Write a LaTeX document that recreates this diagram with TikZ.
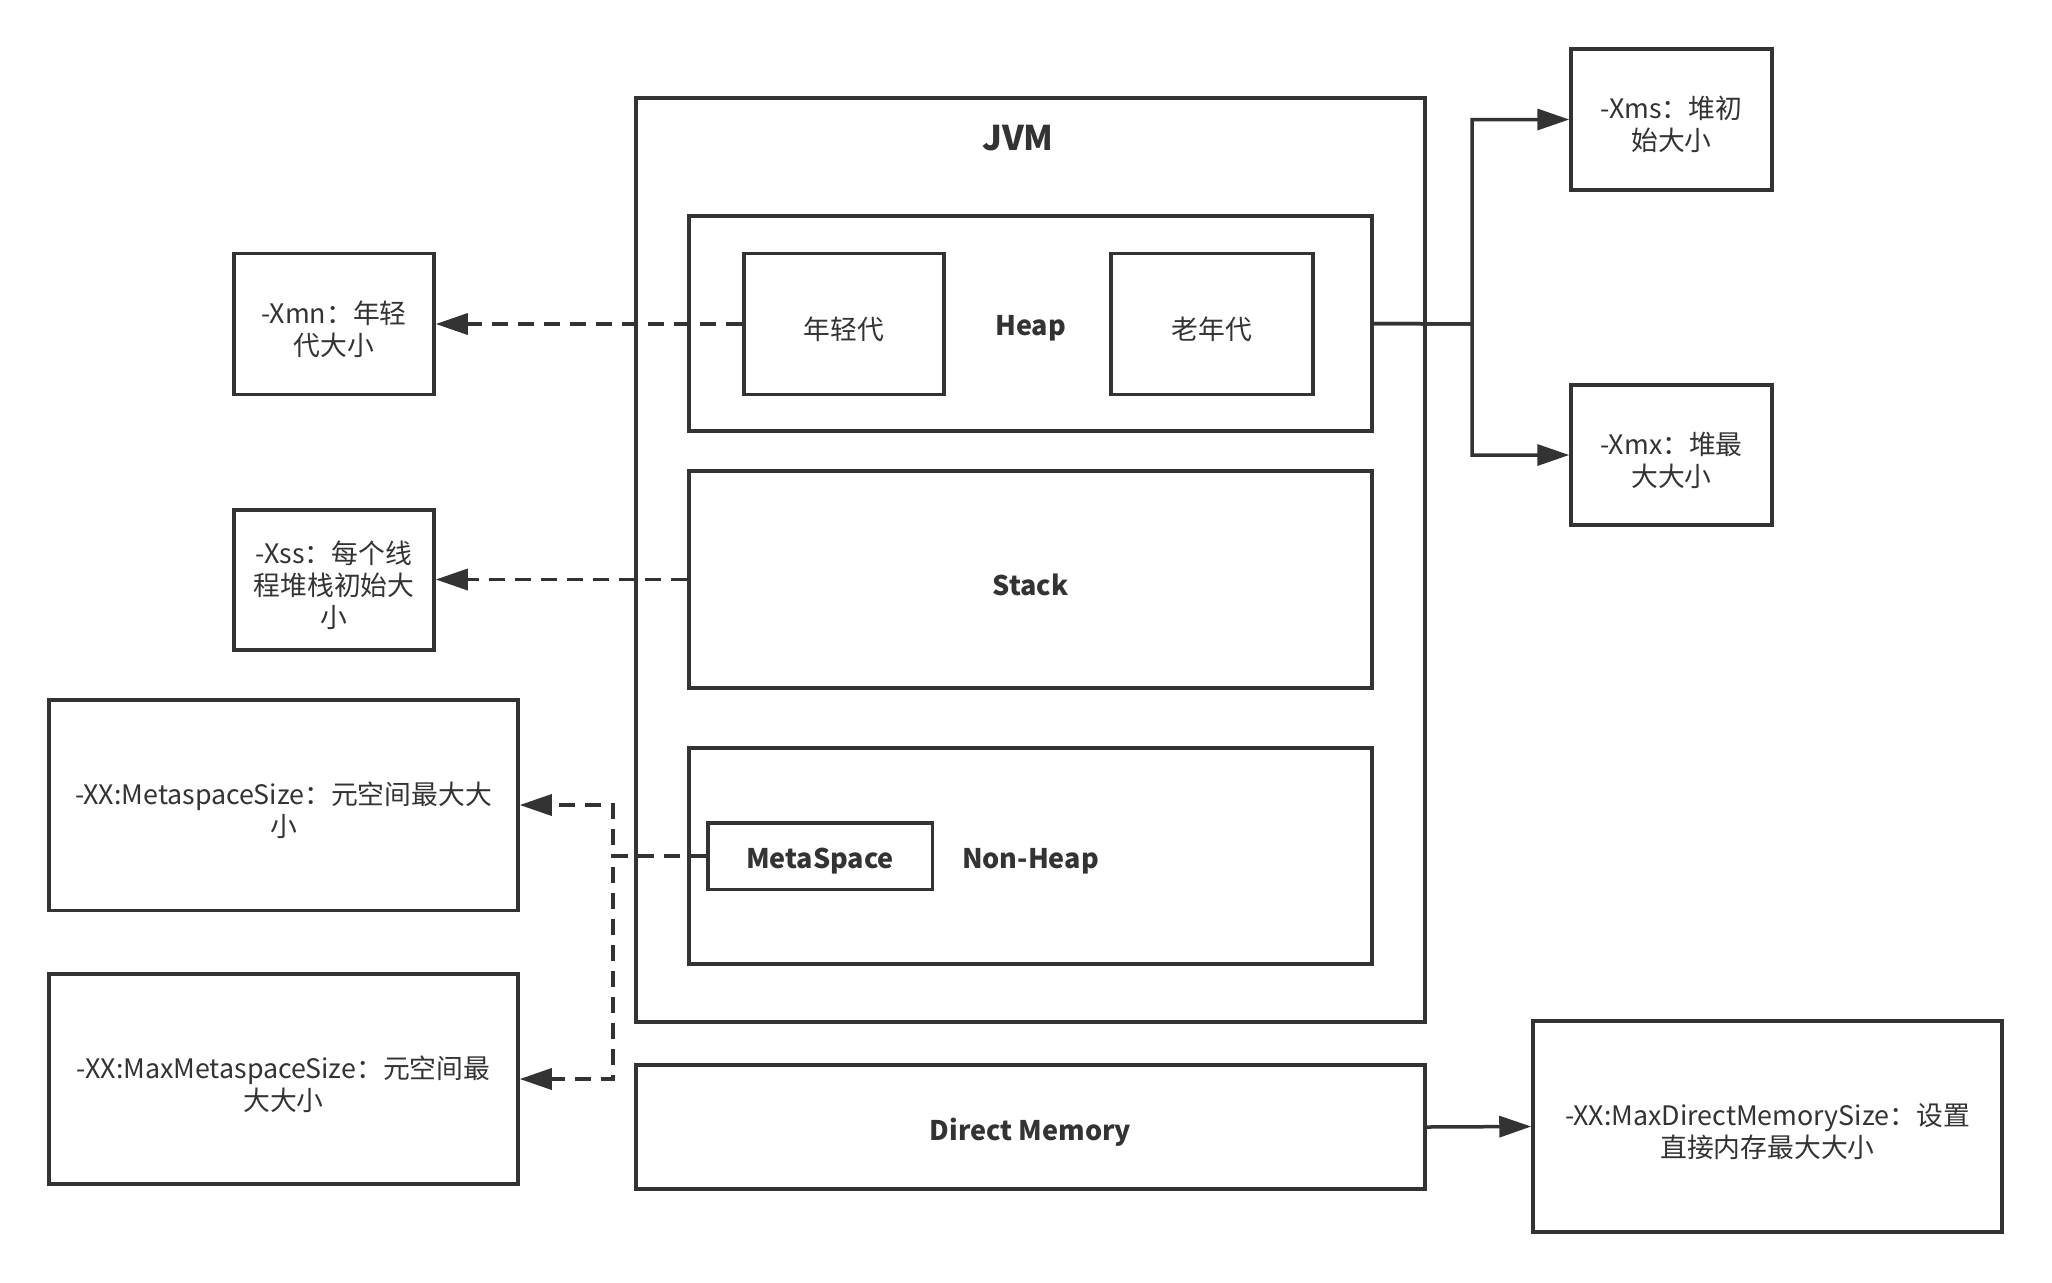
\documentclass[tikz,border=0pt]{standalone}
\usepackage{fontspec}
\setmainfont{Noto Sans CJK SC}
\usetikzlibrary{arrows.meta}
\definecolor{ink}{HTML}{333333}
\tikzset{
  box/.style={draw=ink, line width=1.75pt, inner sep=0pt},
  txt/.style={text=ink, align=center, inner sep=0pt, yshift=-2.5pt,
    font=\fontsize{13.4pt}{16pt}\selectfont},
  bold/.style={txt, font=\bfseries\fontsize{13.5pt}{16pt}\selectfont},
  dashline/.style={draw=ink, line width=1.75pt, dash pattern=on 8pt off 5pt,
    -{Triangle[length=16pt,width=10.5pt]}},
  solidline/.style={draw=ink, line width=1.75pt, -{Triangle[length=16pt,width=10.5pt]}},
}
\begin{document}
\begin{tikzpicture}[x=0.5pt,y=-0.5pt]
\fill[white] (0,0) rectangle (2052,1282);
\useasboundingbox (0,0) rectangle (2052,1282);
% JVM
\node[box, minimum width=394.5pt, minimum height=462pt] (jvm) at (1030.5,560) {};
\node[bold, font=\bfseries\fontsize{17pt}{20pt}\selectfont] (jvmlbl) at (1018,133) {JVM};
\node[box, minimum width=341.5pt, minimum height=107.5pt] (heap) at (1030.5,323.5) {};
\node[bold] (heapt) at (heap) {Heap};
\node[box, minimum width=100pt, minimum height=70.5pt] (young) at (844,324) {};
\node[txt] (youngt) at (young) {年轻代};
\node[box, minimum width=101pt, minimum height=70.5pt] (old) at (1212,324) {};
\node[txt] (oldt) at (old) {老年代};
\node[box, minimum width=341.5pt, minimum height=108.5pt] (stack) at (1030.5,579.5) {};
\node[bold] (stackt) at (stack) {Stack};
\node[box, minimum width=341.5pt, minimum height=108pt] (nonheap) at (1030.5,856) {};
\node[bold] (nonheapt) at (nonheap) {Non-Heap};
\node[box, minimum width=112.25pt, minimum height=33.25pt] (meta) at (820,856) {};
\node[bold] (metat) at (meta) {MetaSpace};
\node[box, minimum width=394.5pt, minimum height=62pt] (direct) at (1030.5,1127) {};
\node[bold] (directt) at (direct) {Direct Memory};
% option boxes
\node[box, minimum width=100pt, minimum height=70.5pt] (xmn) at (334,324) {};
\node[txt] (xmnt) at (xmn) {-Xmn：年轻\\代大小};
\node[box, minimum width=100pt, minimum height=70pt] (xss) at (334,580) {};
\node[txt] (xsst) at (xss) {-Xss：每个线\\程堆栈初始大\\小};
\node[box, minimum width=234.5pt, minimum height=105.25pt] (msize) at (283.5,805) {};
\node[txt] (msizet) at (msize) {-XX:MetaspaceSize：元空间最大大\\小};
\node[box, minimum width=234.5pt, minimum height=105pt] (maxms) at (283.5,1079) {};
\node[txt] (maxmst) at (maxms) {-XX:MaxMetaspaceSize：元空间最\\大大小};
\node[box, minimum width=100.5pt, minimum height=70.5pt] (xms) at (1671.5,119.5) {};
\node[txt] (xmst) at (xms) {-Xms：堆初\\始大小};
\node[box, minimum width=100.5pt, minimum height=70pt] (xmx) at (1671.5,455) {};
\node[txt] (xmxt) at (xmx) {-Xmx：堆最\\大大小};
\node[box, minimum width=234.5pt, minimum height=105.5pt] (maxdirect) at (1767.5,1126.5) {};
\node[txt] (maxdirectt) at (maxdirect) {-XX:MaxDirectMemorySize：设置\\直接内存最大大小};
% connectors
\coordinate (mj) at (613,856);
\coordinate (hj) at (1472,324);
\draw[dashline] (young.west) -- (xmn.east);
\draw[dashline] (stack.west) -- (stack.west -| xss.east);
\draw[dashline] (meta.west) -- (mj) |- (msize.east);
\draw[dashline] (meta.west) -- (mj) |- (maxms.east);
\draw[solidline] (heap.east) -- (hj) |- (xms.west);
\draw[solidline] (heap.east) -- (hj) |- (xmx.west);
\draw[solidline] (direct.east) -- (maxdirect.west);
\end{tikzpicture}
\end{document}
